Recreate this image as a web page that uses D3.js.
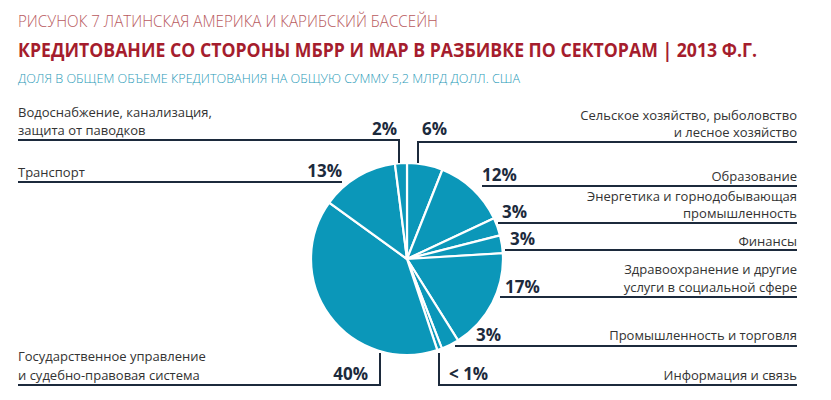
<!DOCTYPE html>
<html><head><meta charset="utf-8">
<script src="https://cdn.jsdelivr.net/npm/d3@7"></script>
<style>body{margin:0;background:#fff}</style></head>
<body><svg id="c" width="831" height="400"></svg>
<script>
const sectors = ["Сельское хозяйство, рыболовство и лесное хозяйство","Образование","Энергетика и горнодобывающая промышленность","Финансы","Здравоохранение и другие услуги в социальной сфере","Промышленность и торговля","Информация и связь","Государственное управление и судебно-правовая система","Транспорт","Водоснабжение, канализация, защита от паводков"];
const values = [6,12,3,3,17,3,0.8,40,13,2];
const pctLabels = ["6%","12%","3%","3%","17%","3%","< 1%","40%","13%","2%"];
const labelLines = [["Сельское хозяйство, рыболовство","и лесное хозяйство"],["Образование"],["Энергетика и горнодобывающая","промышленность"],["Финансы"],["Здравоохранение и другие","услуги в социальной сфере"],["Промышленность и торговля"],["Информация и связь"],["Государственное управление","и судебно-правовая система"],["Транспорт"],["Водоснабжение, канализация,","защита от паводков"]];

const svg = d3.select("#c");
const F = "'Open Sans', sans-serif";
svg.append("text").attr("x",18).attr("y",27).attr("font-family",F).attr("font-size",17).attr("font-weight",300).attr("fill","#b85a5e").attr("textLength",420).attr("lengthAdjust","spacingAndGlyphs").text("РИСУНОК 7  ЛАТИНСКАЯ АМЕРИКА И КАРИБСКИЙ БАССЕЙН");
svg.append("text").attr("x",18).attr("y",57).attr("font-family",F).attr("font-size",19).attr("font-weight",700).attr("fill","#a51d2d").attr("textLength",739).attr("lengthAdjust","spacingAndGlyphs").text("КРЕДИТОВАНИЕ СО СТОРОНЫ МБРР И МАР В РАЗБИВКЕ ПО СЕКТОРАМ | 2013 Ф.Г.");
svg.append("text").attr("x",18).attr("y",83).attr("font-family",F).attr("font-size",12.5).attr("font-weight",300).attr("fill","#2a9bb8").attr("textLength",502).attr("lengthAdjust","spacingAndGlyphs").text("ДОЛЯ В ОБЩЕМ ОБЪЕМЕ КРЕДИТОВАНИЯ НА ОБЩУЮ СУММУ 5,2 МЛРД ДОЛЛ. США");

const cx=407, cy=259, r=96;
const pie = d3.pie().sort(null).value(d=>d)(values);
const arc = d3.arc().innerRadius(0).outerRadius(r);
svg.append("g").attr("transform",`translate(${cx},${cy})`).selectAll("path").data(pie).join("path")
  .attr("d",arc).attr("fill","#0b97b9").attr("stroke","#fff").attr("stroke-width",2.2);

// leader layout: [polyline points], pct label pos, anchor
const L = [
  {pts:[[418,163],[418,142],[797,142]], px:422, py:135, side:"r", ty:[120,137]},
  {pts:[[482,186],[797,186]], px:482, py:181, side:"r", ty:[181]},
  {pts:[[498,223],[797,223]], px:502, py:218, side:"r", ty:[201,218]},
  {pts:[[505,250],[797,250]], px:510, py:245, side:"r", ty:[246]},
  {pts:[[500,297],[797,297]], px:505, py:293, side:"r", ty:[274,292]},
  {pts:[[455,346],[797,346]], px:476, py:341, side:"r", ty:[340]},
  {pts:[[439,353],[439,385],[797,385]], px:449, py:380, side:"r", ty:[380]},
  {pts:[[380,353],[380,385],[18,385]], px:368, py:380, side:"l", ty:[361,380]},
  {pts:[[18,182],[342,182]], px:342, py:177, side:"l", ty:[177]},
  {pts:[[18,140],[399,140],[399,163]], px:397, py:135, side:"l", ty:[117,135]}
];
const g = svg.append("g");
L.forEach((d,i)=>{
  g.append("polyline").attr("points",d.pts.map(p=>p.join(",")).join(" ")).attr("fill","none").attr("stroke","#1c2a3c").attr("stroke-width",2);
  g.append("text").attr("x",d.px).attr("y",d.py).attr("text-anchor",d.side==="r"?"start":"end")
    .attr("font-family",F).attr("font-size",17).attr("font-weight",700).attr("fill","#1c2a3c").text(pctLabels[i]);
  labelLines[i].forEach((t,j)=>{
    g.append("text").attr("x",d.side==="r"?797:18).attr("y",d.ty[j]).attr("text-anchor",d.side==="r"?"end":"start")
      .attr("font-family",F).attr("font-size",13).attr("fill","#333").text(t);
  });
});
</script></body></html>
